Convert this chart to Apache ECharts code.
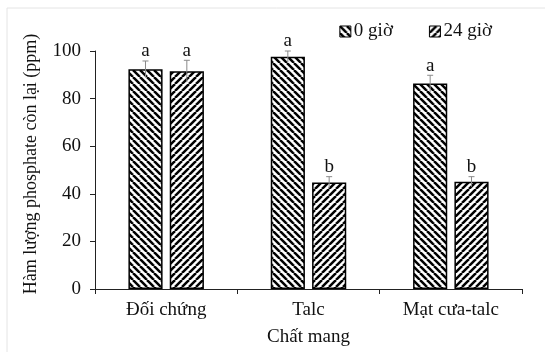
<!DOCTYPE html>
<html><head><meta charset="utf-8">
<script src="https://cdn.jsdelivr.net/npm/echarts@6/dist/echarts.min.js"></script>
<style>html,body{margin:0;padding:0;background:#fff;}#c{width:545px;height:352px;}</style>
</head><body><div id="c"></div>
<script>
const categories = ['Đối chứng', 'Talc', 'Mạt cưa-talc'];
const seriesNames = ['0 giờ', '24 giờ'];
const values0 = [92.3, 97.6, 86.3];
const values24 = [91.5, 44.8, 45.1];
const err0 = [3.5, 2.4, 3.5];
const err24 = [4.6, 2.4, 2.1];
const letters0 = ['a', 'a', 'a'];
const letters24 = ['a', 'b', 'b'];
const yTicks = [0, 20, 40, 60, 80, 100];

function hatch(dir) {
  const s = 7;
  const c = document.createElement('canvas');
  c.width = s; c.height = s;
  const ctx = c.getContext('2d');
  ctx.fillStyle = '#fff'; ctx.fillRect(0, 0, s, s);
  ctx.strokeStyle = '#000'; ctx.lineWidth = 2.5;
  for (const k of [-s, 0, s]) {
    ctx.beginPath();
    if (dir === 'back') { ctx.moveTo(k, 0); ctx.lineTo(k + s, s); }
    else { ctx.moveTo(k, s); ctx.lineTo(k + s, 0); }
    ctx.stroke();
  }
  return { image: c, repeat: 'repeat' };
}
const pat0 = hatch('back');
const pat24 = hatch('fwd');

const FONT = '"Liberation Serif", "Times New Roman", serif';
const FS = 19;
const BW = 0.24, GAP = 0.21;

function errSeries(idx, vals, errs, letters) {
  const data = vals.map((v, i) => [i, v, errs[i], letters[i]]);
  return {
    type: 'custom', z: 5, silent: true,
    data: data,
    encode: { x: 0, y: 1 },
    renderItem: function (params, api) {
      const ci = api.value(0), v = api.value(1), e = api.value(2), t = data[params.dataIndex][3];
      const cw = api.size([1, 0])[0];
      const w = cw * BW, g = w * GAP;
      const total = 2 * w + g;
      const c = api.coord([ci, v]);
      const cx = c[0] - total / 2 + w / 2 + idx * (w + g);
      const top = api.coord([ci, v + e])[1];
      const bot = api.coord([ci, v - e])[1];
      const style = { stroke: '#8a8a8a', lineWidth: 1 };
      return { type: 'group', children: [
        { type: 'line', shape: { x1: cx, y1: top, x2: cx, y2: bot }, style: style },
        { type: 'line', shape: { x1: cx - 3, y1: top, x2: cx + 3, y2: top }, style: style },
        { type: 'text', style: { text: t, x: cx, y: top, align: 'center', verticalAlign: 'bottom', font: FS + 'px ' + FONT, fill: '#111' } }
      ]};
    }
  };
}

const chart = echarts.init(document.getElementById('c'), null, { renderer: 'canvas' });
chart.setOption({
  animation: false,
  backgroundColor: '#fff',
  graphic: [{ type: 'rect', shape: { x: 7, y: 8, width: 560, height: 360 }, style: { fill: 'none', stroke: '#e4e4e4', lineWidth: 1 }, silent: true }],
  legend: {
    right: 48, top: 17, itemWidth: 11, itemHeight: 11, itemGap: 36,
    textStyle: { fontFamily: FONT, fontSize: FS, color: '#111', padding: [0, 0, 0, -2] },
    data: seriesNames, icon: 'rect', itemStyle: { borderColor: '#000', borderWidth: 1 }
  },
  grid: { left: 95, right: 23, top: 51, bottom: 63 },
  xAxis: {
    type: 'category', data: categories,
    name: 'Chất mang', nameLocation: 'middle', nameGap: 39,
    nameTextStyle: { fontFamily: FONT, fontSize: FS, color: '#111' },
    axisLine: { lineStyle: { color: '#222', width: 1 } },
    axisTick: { show: true, length: 5, lineStyle: { color: '#222' } },
    axisLabel: { fontFamily: FONT, fontSize: FS, color: '#111', margin: 12 }
  },
  yAxis: {
    type: 'value', min: 0, max: 100, interval: 20,
    name: 'Hàm lượng phosphate còn lại (ppm)', nameLocation: 'middle', nameGap: 55,
    nameTextStyle: { fontFamily: FONT, fontSize: 18, color: '#111', padding: [0, 0, 0, 12] },
    axisLine: { show: true, lineStyle: { color: '#222', width: 1 } },
    axisTick: { show: true, length: 5, lineStyle: { color: '#222' } },
    axisLabel: { fontFamily: FONT, fontSize: FS, color: '#111', margin: 14 },
    splitLine: { show: false }
  },
  series: [
    { name: seriesNames[0], type: 'bar', data: values0, barWidth: (BW * 100) + '%', barGap: (GAP * 100) + '%',
      itemStyle: { color: pat0, borderColor: '#000', borderWidth: 1.5 } },
    { name: seriesNames[1], type: 'bar', data: values24, barWidth: (BW * 100) + '%', barGap: (GAP * 100) + '%',
      itemStyle: { color: pat24, borderColor: '#000', borderWidth: 1.5 } },
    errSeries(0, values0, err0, letters0),
    errSeries(1, values24, err24, letters24)
  ]
});
</script></body></html>
